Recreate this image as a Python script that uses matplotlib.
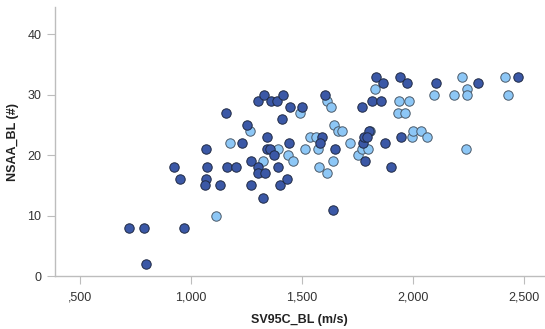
import numpy as np
import matplotlib
matplotlib.use("Agg")
import matplotlib.pyplot as plt

plt.rcParams["font.family"] = ["Liberation Sans", "DejaVu Sans"]

# 两组数据：深色与浅色
dark_x = [723, 790, 800, 970, 925, 950, 1070, 1074, 1070, 1066, 1130, 1157, 1161, 1202,
          1229, 1252, 1273, 1273, 1301, 1332, 1304, 1302, 1334, 1326, 1343, 1343, 1357,
          1362, 1389, 1373, 1392, 1401, 1414, 1412, 1448, 1442, 1433, 1502, 1603, 1591,
          1583, 1651, 1643, 1771, 1774, 1782, 1784, 1802, 1793, 1817, 1834, 1864, 1859,
          1873, 1903, 1944, 1973, 1945, 2107, 2296, 2476]
dark_y = [8, 8, 2, 8, 18, 16, 21, 18, 16, 15, 15, 27, 18, 18,
          22, 25, 19, 15, 29, 30, 18, 17, 17, 13, 23, 21, 21,
          29, 29, 20, 18, 15, 30, 26, 28, 22, 16, 28, 30, 23,
          22, 21, 11, 28, 22, 23, 19, 24, 23, 29, 33, 32, 29,
          22, 18, 33, 32, 23, 32, 32, 33]

light_x = [1113, 1176, 1266, 1326, 1392, 1439, 1462, 1494, 1513, 1538, 1566, 1571, 1578,
           1613, 1630, 1613, 1646, 1662, 1683, 1643, 1716, 1755, 1770, 1798, 1807, 1832,
           1935, 1964, 1940, 1982, 1998, 2003, 2038, 2064, 2094, 2185, 2224, 2244, 2244,
           2240, 2414, 2431]
light_y = [10, 22, 24, 19, 21, 20, 19, 27, 21, 23, 23, 21, 18,
           29, 28, 17, 25, 24, 24, 19, 22, 20, 21, 21, 24, 31,
           27, 27, 29, 29, 23, 24, 24, 23, 30, 30, 33, 31, 30,
           21, 33, 30]

x_ticks = [500, 1000, 1500, 2000, 2500]
x_tick_labels = [",500", "1,000", "1,500", "2,000", "2,500"]
y_ticks = [0, 10, 20, 30, 40]

fig = plt.figure(figsize=(5.45, 3.29), dpi=100)
ax = fig.add_axes([0.100, 0.161, 0.900, 0.817])

ax.scatter(light_x, light_y, s=46, c="#8DC7F6", edgecolors="#4a5a6a", linewidths=0.7, zorder=3)
ax.scatter(dark_x, dark_y, s=46, c="#3B58A6", edgecolors="#1f2a44", linewidths=0.7, zorder=3)

ax.set_xlim(386, 2596)
ax.set_ylim(0, 44.5)
ax.set_xticks(x_ticks)
ax.set_xticklabels(x_tick_labels)
ax.set_yticks(y_ticks)

for side in ["top", "right"]:
    ax.spines[side].set_visible(False)
for side in ["left", "bottom"]:
    ax.spines[side].set_color("#bdbdbd")
    ax.spines[side].set_linewidth(1.0)
ax.tick_params(colors="#bdbdbd", labelcolor="#333333", labelsize=9, length=6, width=0.8)
ax.tick_params(axis="x", pad=5)

ax.set_xlabel("SV95C_BL (m/s)", fontsize=9, fontweight="bold", color="#222222", labelpad=8)
ax.set_ylabel("NSAA_BL (#)", fontsize=9, fontweight="bold", color="#222222")
ax.yaxis.set_label_coords(-0.073, 0.5)

fig.savefig("out.png", dpi=100)
